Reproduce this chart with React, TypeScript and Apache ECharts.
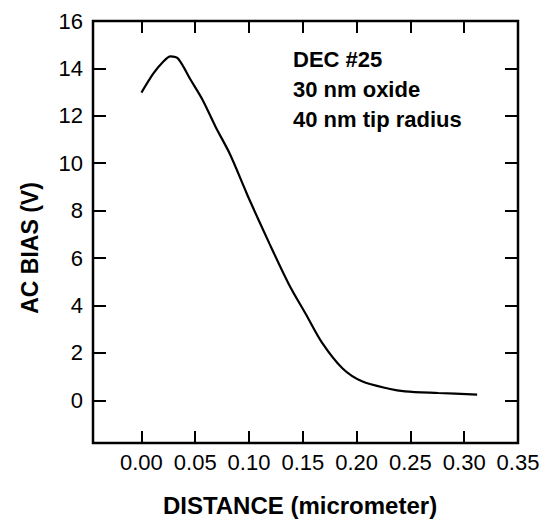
import React, { useEffect, useRef } from "react";
import * as echarts from "echarts";

const distance = [0.0, 0.011, 0.02, 0.027, 0.034, 0.046, 0.057, 0.069, 0.082, 0.096, 0.1, 0.119, 0.137, 0.153, 0.168, 0.187, 0.205, 0.23, 0.245, 0.276, 0.312];
const acBias = [12.98, 13.78, 14.27, 14.51, 14.42, 13.5, 12.66, 11.53, 10.41, 8.93, 8.5, 6.61, 4.9, 3.62, 2.42, 1.34, 0.8, 0.49, 0.38, 0.31, 0.24];
const xTickLabels = [0.0, 0.05, 0.1, 0.15, 0.2, 0.25, 0.3, 0.35];
const yTickLabels = [0, 2, 4, 6, 8, 10, 12, 14, 16];
const annotation = ["DEC #25", "30 nm oxide", "40 nm tip radius"];

const FONT = "'Liberation Sans', Arial, Helvetica, sans-serif";

export default function App() {
  const ref = useRef<HTMLDivElement>(null);
  useEffect(() => {
    if (!ref.current) return;
    const chart = echarts.init(ref.current, null, { renderer: "svg" });
    const data = distance.map((x, i) => [x, acBias[i]]);
    const xMin = -0.045, xMax = 0.35, yMin = -1.8, yMax = 16;
    const xTickInner = xTickLabels.filter((v) => v < 0.34);
    const yTickInner = yTickLabels.filter((v) => v < 15);
    const baseX = {
      type: "value",
      min: xMin,
      max: xMax,
      splitLine: { show: false },
      axisLine: { show: false, onZero: false },
    };
    const baseY = {
      type: "value",
      min: yMin,
      max: yMax,
      splitLine: { show: false },
      axisLine: { show: false, onZero: false },
    };
    const tickStyle = { color: "#000", width: 2 };
    chart.setOption({
      animation: false,
      backgroundColor: "#fff",
      grid: {
        left: 93,
        top: 21,
        right: 28,
        bottom: 82,
        show: true,
        borderColor: "#000",
        borderWidth: 2.5,
        backgroundColor: "transparent",
      },
      xAxis: [
        {
          ...baseX,
          position: "bottom",
          axisTick: { inside: true, length: 12, lineStyle: tickStyle, customValues: xTickInner },
          axisLabel: {
            customValues: xTickLabels,
            formatter: (v: number) => v.toFixed(2),
            color: "#000",
            fontFamily: FONT,
            fontSize: 22,
            margin: 8,
          },
        },
        {
          ...baseX,
          position: "top",
          axisTick: { inside: true, length: 12, lineStyle: tickStyle, customValues: xTickInner },
          axisLabel: { show: false },
        },
      ],
      yAxis: [
        {
          ...baseY,
          position: "left",
          axisTick: { inside: true, length: 13, lineStyle: tickStyle, customValues: yTickInner },
          axisLabel: {
            customValues: yTickLabels,
            color: "#000",
            fontFamily: FONT,
            fontSize: 22,
            margin: 10,
          },
        },
        {
          ...baseY,
          position: "right",
          axisTick: { inside: true, length: 13, lineStyle: tickStyle, customValues: yTickInner },
          axisLabel: { show: false },
        },
      ],
      series: [
        {
          type: "line",
          data,
          showSymbol: false,
          smooth: 0.3,
          lineStyle: { color: "#000", width: 2.2 },
          xAxisIndex: 0,
          yAxisIndex: 0,
        },
      ],
      graphic: [
        {
          type: "text",
          x: 30,
          y: 248,
          rotation: Math.PI / 2,
          style: {
            text: "AC BIAS (V)",
            fontFamily: FONT,
            fontWeight: "bold",
            fontSize: 23,
            fill: "#000",
            align: "center",
            verticalAlign: "middle",
          },
        },
        {
          type: "text",
          x: 300,
          y: 505,
          style: {
            text: "DISTANCE (micrometer)",
            fontFamily: FONT,
            fontWeight: "bold",
            fontSize: 24,
            fill: "#000",
            align: "center",
            verticalAlign: "middle",
          },
        },
        ...annotation.map((t, i) => ({
          type: "text",
          x: 293,
          y: 59 + i * 30,
          style: {
            text: t,
            fontFamily: FONT,
            fontWeight: "bold",
            fontSize: 22,
            fill: "#000",
            align: "left",
            verticalAlign: "middle",
          },
        })),
      ],
    });
    return () => chart.dispose();
  }, []);
  return (
    <div
      ref={ref}
      style={{ position: "fixed", left: 0, top: 0, width: 546, height: 525 }}
    />
  );
}
